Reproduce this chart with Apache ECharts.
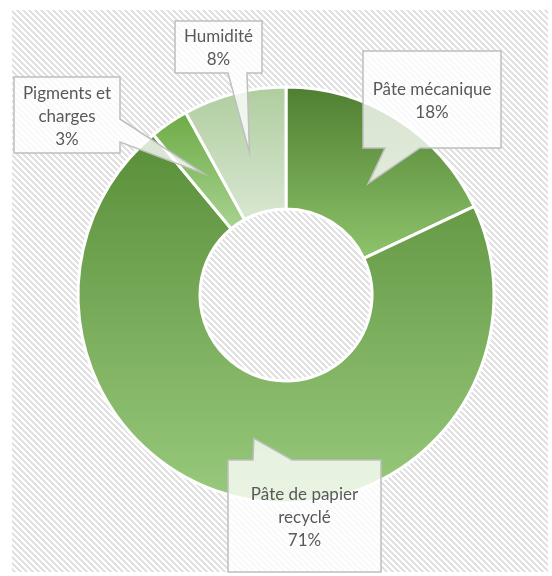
<!DOCTYPE html>
<html><head><meta charset="utf-8">
<script src="https://cdn.jsdelivr.net/npm/echarts@6/dist/echarts.min.js"></script>
<style>html,body{margin:0;padding:0;background:#fff}#c{width:552px;height:576px}</style>
</head><body><div id="c"></div>
<script>
// ---- data ----
const categories = ['Pâte mécanique', 'Pâte de papier recyclé', 'Pigments et charges', 'Humidité'];
const labelTexts = ['Pâte mécanique', 'Pâte de papier\nrecyclé', 'Pigments et\ncharges', 'Humidité'];
const values = [18, 71, 3, 8];

// ---- styles ----
const sliceTop = ['#4f7e30', '#598e38', '#6dab45', '#afcd9f'];
const sliceBottom = ['#8ec46c', '#99ca7d', '#a8d391', '#d9e7d2'];
// callout boxes (layout): rect + pointer base on one side; tip offset (deg) / radial fraction
const calloutBoxes = [
  {x: 363, y: 51, w: 138, h: 97, side: 'bottom', a: 385, b: 420, da: 4, rf: 0.43},
  {x: 228, y: 460, w: 153, h: 112, side: 'top', a: 253, b: 292, da: 0, rf: 0.5},
  {x: 14, y: 77, w: 106, h: 76, side: 'right', a: 119, b: 142, da: 0, rf: 0.5},
  {x: 175, y: 21, w: 87, h: 52, side: 'bottom', a: 228, b: 247, da: 0, rf: 0.5}
];
const CENTER = [286, 295];
const RADIUS = [86, 208];

function makeHatch() {
  const n = 6, c = document.createElement('canvas');
  c.width = n; c.height = n;
  const g = c.getContext('2d');
  g.fillStyle = '#ffffff'; g.fillRect(0, 0, n, n);
  g.fillStyle = '#e1e1e1';
  for (let y = 0; y < n; y++) for (let x = 0; x < n; x++) {
    if ((((x - y) % n) + n) % n < 3) g.fillRect(x, y, 1, 1);
  }
  return c;
}

const chart = echarts.init(document.getElementById('c'), null, {renderer: 'canvas'});
const pieData = categories.map((name, i) => ({
  name, value: values[i],
  itemStyle: {
    color: new echarts.graphic.LinearGradient(0, 0, 0, 1, [
      {offset: 0, color: sliceTop[i]}, {offset: 1, color: sliceBottom[i]}
    ])
  }
}));
const labelData = categories.map((name, i) => ({name, value: values[i]}));

const option = {
  animation: false,
  backgroundColor: '#ffffff',
  series: [
    {
      type: 'pie', z: 2,
      center: CENTER, radius: RADIUS,
      startAngle: 90, clockwise: true,
      percentPrecision: 0,
      avoidLabelOverlap: false,
      itemStyle: {borderColor: '#ffffff', borderWidth: 3},
      label: {show: false}, labelLine: {show: false},
      emphasis: {disabled: true},
      data: pieData
    },
    {
      type: 'pie', z: 5, silent: true,
      center: CENTER, radius: RADIUS,
      startAngle: 90, clockwise: true,
      percentPrecision: 0,
      avoidLabelOverlap: false,
      itemStyle: {color: 'rgba(0,0,0,0)', borderWidth: 0},
      label: {
        show: true, position: 'outside',
        formatter: p => labelTexts[p.dataIndex] + '\n' + Math.round(p.percent) + '%',
        color: '#595959', fontFamily: 'Lato', fontSize: 17, lineHeight: 23, align: 'center'
      },
      labelLine: {show: false},
      labelLayout: function (params) {
        const b = calloutBoxes[params.dataIndex];
        return {x: b.x + b.w / 2, y: b.y + b.h / 2 + 1.5, align: 'center', verticalAlign: 'middle'};
      },
      emphasis: {disabled: true},
      data: labelData
    }
  ]
};
chart.setOption(option);

// callouts: pointer tip computed from the library's slice layout
const sData = chart.getModel().getSeriesByIndex(0).getData();
const graphics = [{
  type: 'rect', z: 0, silent: true,
  shape: {x: 12, y: 10, width: 536, height: 562},
  style: {fill: {image: makeHatch(), repeat: 'repeat'}}
}];
calloutBoxes.forEach((b, i) => {
  const L = sData.getItemLayout(i);
  const mid = (L.startAngle + L.endAngle) / 2 + b.da * Math.PI / 180;
  const rm = L.r0 + (L.r - L.r0) * b.rf;
  const t = [L.cx + rm * Math.cos(mid), L.cy + rm * Math.sin(mid)];
  const x0 = b.x, y0 = b.y, x1 = b.x + b.w, y1 = b.y + b.h;
  let pts;
  if (b.side === 'top') pts = [[x0, y0], [b.a, y0], t, [b.b, y0], [x1, y0], [x1, y1], [x0, y1]];
  else if (b.side === 'bottom') pts = [[x0, y0], [x1, y0], [x1, y1], [b.b, y1], t, [b.a, y1], [x0, y1]];
  else if (b.side === 'right') pts = [[x0, y0], [x1, y0], [x1, b.a], t, [x1, b.b], [x1, y1], [x0, y1]];
  else pts = [[x0, y0], [x1, y0], [x1, y1], [x0, y1], [x0, b.b], t, [x0, b.a]];
  graphics.push({
    type: 'polygon', z: 3, silent: true,
    shape: {points: pts},
    style: {fill: 'rgba(255,255,255,0.78)', stroke: '#bfbfbf', lineWidth: 1.5}
  });
});
chart.setOption({graphic: graphics});
</script>
</body></html>
